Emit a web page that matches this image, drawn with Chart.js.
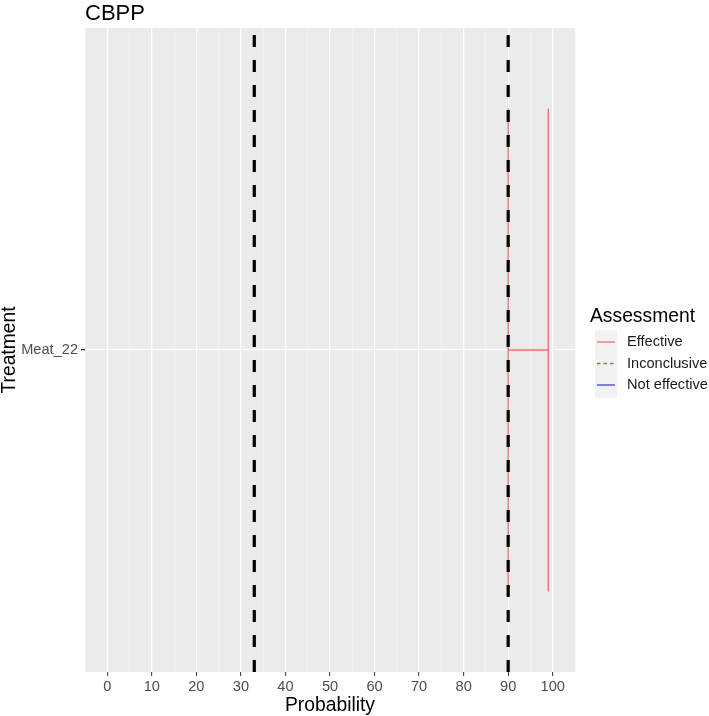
<!DOCTYPE html>
<html>
<head>
<meta charset="utf-8">
<script src="https://cdn.jsdelivr.net/npm/chart.js@4"></script>
<style>
  html, body { margin: 0; padding: 0; background: #fff; }
  #wrap { width: 709px; height: 716px; position: relative; }
</style>
</head>
<body>
<div id="wrap"><canvas id="probChart"></canvas></div>
<script>
// data
const treatments = ['Meat_22'];
const lowerProb = [90];
const upperProb = [99];
const assessments = ['Effective'];
const thresholds = [33, 90];
const xTicks = [0, 10, 20, 30, 40, 50, 60, 70, 80, 90, 100];
const legendLabels = ['Effective', 'Inconclusive', 'Not effective'];
const legendColors = ['#F26B66', '#A47A3A', '#3B3BE8'];
const legendDashed = [false, true, false];

const FONT = "'Liberation Sans', Arial, sans-serif";
const capHalf = 0.45;

function colorFor(a) {
    return legendColors[legendLabels.indexOf(a)];
}

// error bar datasets (one per treatment)
const barSets = [];
treatments.forEach((t, i) => {
    const y = i + 1;
    barSets.push({
        label: t,
        data: [
            { x: lowerProb[i], y: y - capHalf }, { x: lowerProb[i], y: y + capHalf },
            { x: NaN, y: NaN },
            { x: lowerProb[i], y: y }, { x: upperProb[i], y: y },
            { x: NaN, y: NaN },
            { x: upperProb[i], y: y - capHalf }, { x: upperProb[i], y: y + capHalf }
        ],
        borderColor: colorFor(assessments[i]),
        borderWidth: 1.3,
        pointRadius: 0,
        showLine: true,
        spanGaps: false,
        order: 2
    });
});

const lineSets = thresholds.map(v => ({
    label: 'threshold ' + v,
    data: [{ x: v, y: 0.4 }, { x: v, y: treatments.length + 0.6 }],
    borderColor: '#000',
    borderWidth: 3.2,
    borderDash: [12, 13],
    pointRadius: 0,
    showLine: true,
    order: 1
}));

const panelBg = {
    id: 'panelBg',
    beforeDraw(chart) {
        const { ctx, chartArea: a } = chart;
        ctx.save();
        ctx.fillStyle = '#EBEBEB';
        ctx.fillRect(a.left, a.top, a.right - a.left, a.bottom - a.top);
        ctx.restore();
    }
};

const extras = {
    id: 'extras',
    afterDraw(chart) {
        const { ctx, chartArea: a } = chart;
        ctx.save();
        // title
        ctx.fillStyle = '#000';
        ctx.font = '22px ' + FONT;
        ctx.textBaseline = 'alphabetic';
        ctx.textAlign = 'left';
        ctx.fillText('CBPP', a.left, 20);

        // legend
        ctx.font = '19.3px ' + FONT;
        ctx.fillText('Assessment', 590, 322);
        ctx.fillStyle = '#F2F2F2';
        ctx.fillRect(595, 330, 22, 68);
        legendLabels.forEach((lab, i) => {
            const y = 342 + i * 21.5;
            ctx.strokeStyle = legendColors[i];
            ctx.lineWidth = 1.3;
            ctx.setLineDash(legendDashed[i] ? [3.5, 3] : []);
            ctx.beginPath();
            ctx.moveTo(597, y);
            ctx.lineTo(615, y);
            ctx.stroke();
            ctx.setLineDash([]);
            ctx.fillStyle = '#1A1A1A';
            ctx.font = '14.6px ' + FONT;
            ctx.textBaseline = 'middle';
            ctx.fillText(lab, 627, y);
        });
        ctx.restore();
    }
};

const ctx = document.getElementById('probChart').getContext('2d');
new Chart(ctx, {
    type: 'scatter',
    data: { datasets: barSets.concat(lineSets) },
    options: {
        responsive: true,
        maintainAspectRatio: false,
        animation: false,
        layout: { padding: { top: 28, right: 134, left: 0, bottom: 0 } },
        plugins: {
            legend: { display: false },
            tooltip: { enabled: false },
            title: { display: false }
        },
        scales: {
            x: {
                type: 'linear',
                min: -5,
                max: 105,
                afterBuildTicks(scale) {
                    const t = [];
                    for (let v = -5; v <= 105; v += 5) t.push({ value: v });
                    scale.ticks = t;
                },
                afterFit(scale) { scale.height = 44; },
                border: { display: false },
                grid: {
                    color: c => (c.tick && c.tick.value % 10 === 0) ? '#FFFFFF' : '#F7F7F7',
                    lineWidth: c => (c.tick && c.tick.value % 10 === 0) ? 1.3 : 0.6,
                    tickColor: c => (c.tick && c.tick.value % 10 === 0) ? '#333333' : 'rgba(0,0,0,0)',
                    tickLength: 4,
                    tickWidth: 1
                },
                ticks: {
                    autoSkip: false,
                    maxRotation: 0,
                    padding: 2,
                    color: '#4D4D4D',
                    font: { family: FONT, size: 14.6 },
                    callback: v => xTicks.includes(v) ? String(v) : ''
                },
                title: {
                    display: true,
                    text: 'Probability',
                    color: '#000',
                    font: { family: FONT, size: 19.3, lineHeight: 1.1 },
                    padding: { top: 0, bottom: 0 }
                }
            },
            y: {
                type: 'linear',
                min: 0.4,
                max: treatments.length + 0.6,
                afterBuildTicks(scale) {
                    scale.ticks = treatments.map((t, i) => ({ value: i + 1 }));
                },
                afterFit(scale) { scale.width = 85; },
                border: { display: false },
                grid: {
                    color: '#FFFFFF',
                    lineWidth: 1.3,
                    tickColor: '#333333',
                    tickLength: 4
                },
                ticks: {
                    padding: 3,
                    color: '#4D4D4D',
                    font: { family: FONT, size: 14.6 },
                    callback: v => treatments[Math.round(v) - 1] || ''
                },
                title: {
                    display: true,
                    text: 'Treatment',
                    color: '#000',
                    font: { family: FONT, size: 19.3, lineHeight: 1 },
                    padding: { top: 0, bottom: 0 }
                }
            }
        }
    },
    plugins: [panelBg, extras]
});
</script>
</body>
</html>
